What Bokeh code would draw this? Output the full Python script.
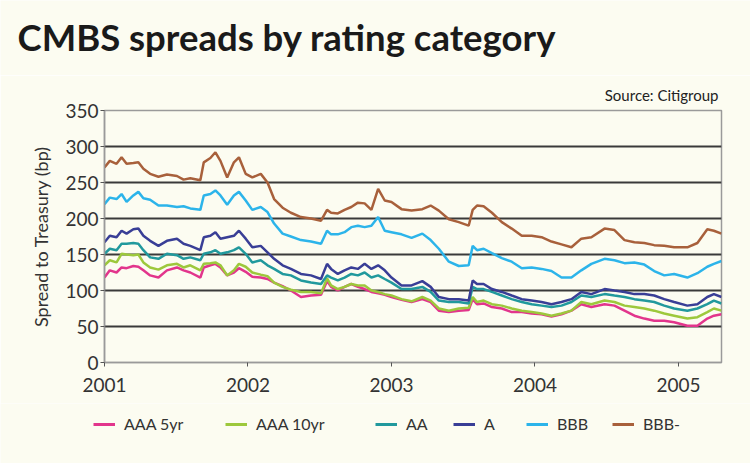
from bokeh.plotting import figure
from bokeh.models import Range1d, FixedTicker, NumeralTickFormatter, Title, Legend, LegendItem, Label
from bokeh.embed import file_html
from bokeh.resources import INLINE

# ---- data (decimal years, spreads in bp) ----
dates = [2001.000, 2001.037, 2001.084, 2001.119, 2001.154, 2001.201, 2001.236, 2001.271, 2001.318, 2001.376,
         2001.435, 2001.505, 2001.551, 2001.598, 2001.668, 2001.692, 2001.738, 2001.773, 2001.808, 2001.855,
         2001.902, 2001.937, 2001.984, 2002.030, 2002.089, 2002.136, 2002.182, 2002.241, 2002.299, 2002.369,
         2002.439, 2002.509, 2002.551, 2002.579, 2002.626, 2002.673, 2002.720, 2002.766, 2002.813, 2002.860,
         2002.907, 2002.953, 2003.000, 2003.070, 2003.140,
         2003.215, 2003.273, 2003.330, 2003.400, 2003.469, 2003.538, 2003.566, 2003.596, 2003.642, 2003.700,
         2003.769, 2003.838, 2003.908, 2003.977, 2004.046, 2004.115, 2004.185, 2004.254, 2004.323, 2004.393,
         2004.485, 2004.554, 2004.624, 2004.693, 2004.762, 2004.831, 2004.901, 2004.970, 2005.062, 2005.132,
         2005.201, 2005.247, 2005.300]

aaa5 = [118, 128, 125, 132, 131, 134, 133, 128, 121, 118, 128, 132, 128, 125, 118, 132, 135, 137, 132, 121,
        125, 131, 126, 119, 118, 116, 111, 106, 100, 91, 93, 94, 113, 105, 100, 105, 109, 105, 102, 98,
        96, 94, 91, 87, 84,
        88, 84, 72, 70, 72, 73, 88, 81, 82, 77, 75, 70, 70, 68, 67, 64, 67, 72, 81, 77,
        81, 79, 72, 65, 61, 58, 58, 56, 51, 51, 61, 65, 67]

aaa10 = [135, 142, 139, 151, 150, 149, 150, 139, 132, 129, 135, 137, 132, 135, 128, 137, 138, 139, 135, 121,
         128, 137, 133, 125, 122, 120, 111, 105, 101, 98, 98, 96, 117, 107, 102, 105, 109, 107, 107, 100,
         98, 95, 93, 88, 85,
         91, 86, 75, 72, 75, 76, 91, 84, 86, 81, 79, 75, 72, 70, 68, 65, 68, 72, 84, 81,
         86, 84, 79, 77, 75, 72, 68, 65, 61, 63, 70, 75, 72]

aa = [151, 158, 156, 165, 165, 166, 165, 156, 146, 144, 151, 149, 144, 146, 142, 151, 153, 156, 151, 153,
      156, 160, 151, 139, 142, 135, 130, 123, 121, 114, 111, 109, 121, 118, 114, 118, 123, 121, 125, 118,
      121, 116, 111, 102, 102,
      105, 98, 86, 84, 84, 82, 105, 102, 102, 98, 93, 88, 84, 81, 79, 77, 79, 84, 93, 91,
      95, 93, 91, 88, 86, 84, 79, 75, 72, 75, 81, 86, 82]

a = [167, 176, 174, 183, 179, 185, 186, 176, 169, 162, 169, 172, 165, 162, 156, 174, 176, 181, 172, 174,
     176, 183, 172, 160, 162, 153, 144, 135, 130, 123, 121, 116, 137, 130, 123, 128, 132, 130, 137, 130,
     135, 128, 118, 107, 107,
     113, 105, 91, 88, 88, 86, 114, 109, 109, 102, 98, 93, 88, 86, 84, 81, 84, 88, 98, 95,
     102, 100, 98, 95, 95, 93, 88, 84, 79, 81, 91, 95, 91]

bbb = [220, 229, 227, 234, 223, 232, 237, 228, 226, 218, 218, 216, 217, 214, 212, 232, 234, 239, 232, 219,
       232, 237, 225, 212, 216, 209, 193, 179, 175, 170, 168, 165, 183, 178, 178, 181, 188, 190, 188, 190,
       202, 183, 181, 178, 173,
       179, 170, 158, 140, 134, 135, 162, 156, 158, 152, 145, 140, 131, 132, 130, 127, 118, 118, 128, 137,
       144, 142, 138, 139, 136, 127, 121, 123, 118, 124, 133, 137, 141]

bbb_minus = [271, 280, 276, 285, 276, 277, 278, 269, 262, 258, 261, 259, 254, 256, 253, 278, 284, 292, 280, 257,
             278, 285, 262, 257, 262, 250, 227, 215, 208, 202, 200, 197, 212, 208, 207, 212, 216, 222, 221, 212,
             241, 225, 223, 213, 211,
             213, 218, 211, 199, 195, 190, 212, 218, 217, 208, 195, 186, 176, 176, 174, 168, 164, 160, 172, 174,
             186, 184, 170, 167, 166, 163, 162, 160, 160, 166, 185, 183, 179]

series_names = ["AAA 5yr", "AAA 10yr", "AA", "A", "BBB", "BBB-"]
series_values = [aaa5, aaa10, aa, a, bbb, bbb_minus]
year_ticks = [2001, 2002, 2003, 2004, 2005]
y_ticks = [0, 50, 100, 150, 200, 250, 300, 350]
grid_ticks = [50, 100, 150, 200, 250, 300, 350]

# ---- styling ----
colors = ["#e2358c", "#9dc83c", "#21999d", "#393e96", "#2cb4ea", "#a8603b"]
legend_x = [93, 225, 375, 453, 526, 612]
BG = "#fcfcf1"
FONT = "Lato"


def blank_fig(height):
    f = figure(width=750, height=height, output_backend="svg", toolbar_location=None,
               x_axis_type=None, y_axis_type=None, min_border=0,
               x_range=Range1d(0, 1), y_range=Range1d(0, 1))
    f.background_fill_color = BG
    f.border_fill_color = BG
    f.outline_line_color = None
    f.xgrid.visible = False
    f.ygrid.visible = False
    return f


# ---- heading ----
head = blank_fig(75)
head.add_layout(Label(x=17, y=39, x_units="screen", y_units="screen",
                      text="CMBS spreads by rating category", text_font=FONT,
                      text_font_size="36.5px", text_font_style="bold", text_color="#1a1a1a",
                      text_baseline="alphabetic"))

# ---- chart ----
p = figure(width=750, height=328, output_backend="svg", toolbar_location=None,
           x_range=Range1d(2001, 2005.30), y_range=Range1d(0, 350),
           min_border_left=104, min_border_right=29, min_border_top=35, min_border_bottom=41)
p.background_fill_color = BG
p.border_fill_color = BG
p.outline_line_color = "#9a9a9a"
p.outline_line_width = 1.5

p.xgrid.visible = False
p.ygrid.ticker = FixedTicker(ticks=grid_ticks)
p.ygrid.grid_line_color = "#3a3a3a"
p.ygrid.grid_line_width = 2

p.yaxis.ticker = FixedTicker(ticks=y_ticks)
p.xaxis.ticker = FixedTicker(ticks=year_ticks)
p.xaxis.formatter = NumeralTickFormatter(format="0")
for ax in (p.xaxis[0], p.yaxis[0]):
    ax.axis_line_color = "#9a9a9a"
    ax.axis_line_width = 1.5
    ax.major_tick_line_color = "#555555"
    ax.major_tick_out = 4
    ax.major_tick_in = 0
    ax.minor_tick_line_color = None
    ax.major_label_text_font = FONT
    ax.major_label_text_font_size = "19px"
    ax.major_label_text_color = "#333333"
p.xaxis.major_label_standoff = 11
p.yaxis.major_label_standoff = 2
p.yaxis.axis_label = "Spread to Treasury (bp)"
p.yaxis.axis_label_text_font = FONT
p.yaxis.axis_label_text_font_size = "18px"
p.yaxis.axis_label_text_font_style = "normal"
p.yaxis.axis_label_text_color = "#333333"
p.yaxis.axis_label_standoff = 10

for vals, col in zip(series_values, colors):
    p.line(dates, vals, line_color=col, line_width=2.5)

p.add_layout(Title(text="Source: Citigroup", align="right", offset=3, standoff=14,
                   text_font=FONT, text_font_size="15px", text_font_style="normal",
                   text_color="#222222"), "above")

# ---- legend row ----
lg_fig = blank_fig(60)
for name, vals, col, lx in zip(series_names, series_values, colors, legend_x):
    r = lg_fig.line(dates, vals, line_color=col, line_width=3)
    lg = Legend(items=[LegendItem(label=name, renderers=[r])], location=(lx, 30),
                orientation="horizontal", padding=0, margin=0, border_line_color=None,
                background_fill_alpha=0, glyph_width=22, glyph_height=18, label_standoff=9,
                label_text_font=FONT, label_text_font_size="16px", label_text_color="#333333")
    lg_fig.add_layout(lg)

open("out.html", "w").write(file_html([head, p, lg_fig], INLINE))
